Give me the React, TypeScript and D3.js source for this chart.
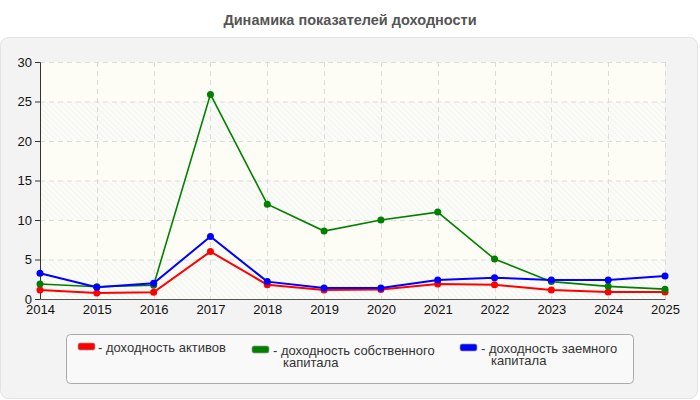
import React, { useEffect, useRef } from "react";
import * as d3 from "d3";

const years = [2014, 2015, 2016, 2017, 2018, 2019, 2020, 2021, 2022, 2023, 2024, 2025];
const assetsReturn = [1.15, 0.75, 0.85, 6.0, 1.8, 1.15, 1.2, 1.9, 1.8, 1.15, 0.9, 0.9];
const equityReturn = [1.9, 1.55, 1.75, 25.9, 12.0, 8.6, 10.0, 11.0, 5.05, 2.2, 1.6, 1.25];
const debtReturn = [3.25, 1.5, 2.0, 7.9, 2.2, 1.4, 1.4, 2.4, 2.7, 2.4, 2.4, 2.9];
const yTicks = [0, 5, 10, 15, 20, 25, 30];

const series = [
  { name: "доходность активов", lines: ["- доходность активов"], color: "#ff0000", values: assetsReturn, width: 2 },
  { name: "доходность собственного капитала", lines: ["- доходность собственного", "капитала"], color: "#008000", values: equityReturn, width: 1.6 },
  { name: "доходность заемного капитала", lines: ["- доходность заемного", "капитала"], color: "#0000ff", values: debtReturn, width: 2 },
];

const App: React.FC = () => {
  const svgRef = useRef<SVGSVGElement | null>(null);

  useEffect(() => {
    if (!svgRef.current) return;
    const svg = d3.select(svgRef.current);
    svg.selectAll("*").remove();

    const width = 700;
    const height = 400;
    const margin = { top: 62, right: 35, bottom: 101, left: 40 };
    const font = "'Liberation Sans', Arial, sans-serif";

    svg.attr("width", width).attr("height", height).style("font-family", font);

    // outer panel
    svg.append("rect")
      .attr("x", 0.5).attr("y", 37.5).attr("width", 697).attr("height", 361)
      .attr("rx", 8).attr("fill", "#f3f3f3").attr("stroke", "#e2e2e2");

    svg.append("text")
      .attr("x", 350).attr("y", 25).attr("text-anchor", "middle")
      .attr("font-size", 14.5).attr("font-weight", "bold").attr("fill", "#555")
      .text("Динамика показателей доходности");

    const x = d3.scaleLinear()
      .domain([years[0], years[years.length - 1]])
      .range([margin.left, width - margin.right]);
    const y = d3.scaleLinear().domain([0, 30]).range([height - margin.bottom, margin.top]);

    // hatched bands
    const defs = svg.append("defs");
    const pat = defs.append("pattern")
      .attr("id", "hatch").attr("patternUnits", "userSpaceOnUse")
      .attr("width", 4).attr("height", 4).attr("patternTransform", "rotate(-45)");
    pat.append("rect").attr("width", 4).attr("height", 4).attr("fill", "#fbfbf8");
    pat.append("line").attr("x1", 0).attr("y1", 0).attr("x2", 0).attr("y2", 4)
      .attr("stroke", "#eeeeeb").attr("stroke-width", 1.2);

    svg.append("rect")
      .attr("x", x(2014)).attr("y", y(30))
      .attr("width", x(2025) - x(2014)).attr("height", y(0) - y(30))
      .attr("fill", "#fdfdf6");

    svg.append("g").selectAll("rect")
      .data(yTicks.slice(0, -1).filter((_, i) => i % 2 === 0))
      .join("rect")
      .attr("x", x(2014)).attr("y", (d) => y(d + 5))
      .attr("width", x(2025) - x(2014)).attr("height", (d) => y(d) - y(d + 5))
      .attr("fill", "url(#hatch)");

    // grid
    const grid = svg.append("g").attr("stroke", "#dcdcdc").attr("stroke-dasharray", "5,4");
    grid.selectAll("line.h").data(yTicks.slice(1)).join("line").attr("class", "h")
      .attr("x1", x(2014)).attr("x2", x(2025))
      .attr("y1", (d) => y(d) + 0.5).attr("y2", (d) => y(d) + 0.5);
    grid.selectAll("line.v").data(years.slice(1)).join("line").attr("class", "v")
      .attr("x1", (d) => Math.round(x(d)) + 0.5).attr("x2", (d) => Math.round(x(d)) + 0.5)
      .attr("y1", y(30)).attr("y2", y(0));

    // axes
    const yAxis = svg.append("g")
      .attr("transform", `translate(${x(2014)},0)`)
      .call(d3.axisLeft(y).tickValues(yTicks).tickSize(5).tickPadding(3));
    const xAxis = svg.append("g")
      .attr("transform", `translate(0,${y(0)})`)
      .call(d3.axisBottom(x).tickValues(years).tickFormat(d3.format("d")).tickSize(0).tickPadding(6));
    [yAxis, xAxis].forEach((g) => {
      g.selectAll("text").attr("font-size", 13).attr("fill", "#111").style("font-family", font);
      g.selectAll("line").attr("stroke", "#333");
    });
    yAxis.select(".domain").attr("stroke", "#333");
    xAxis.select(".domain").attr("stroke", "#555");

    // series
    const line = d3.line<number>()
      .x((_, i) => x(years[i]))
      .y((d) => y(d));

    series.forEach((s) => {
      svg.append("path")
        .datum(s.values)
        .attr("fill", "none")
        .attr("stroke", s.color)
        .attr("stroke-width", s.width)
        .attr("d", line);
      svg.append("g").selectAll("circle")
        .data(s.values)
        .join("circle")
        .attr("cx", (_, i) => x(years[i]))
        .attr("cy", (d) => y(d))
        .attr("r", 3.5)
        .attr("fill", s.color);
    });

    // legend
    svg.append("rect")
      .attr("x", 66.5).attr("y", 334.5).attr("width", 567).attr("height", 49)
      .attr("rx", 4).attr("fill", "#f9f9f9").attr("stroke", "#aaa");

    const legendPos = [
      { sx: 78, sy: 343, tx: 98 },
      { sx: 252, sy: 346, tx: 273 },
      { sx: 460, sy: 344, tx: 481 },
    ];
    series.forEach((s, i) => {
      const p = legendPos[i];
      svg.append("rect")
        .attr("x", p.sx).attr("y", p.sy).attr("width", 17).attr("height", 7)
        .attr("rx", 2).attr("fill", s.color).attr("stroke", "#999").attr("stroke-width", 0.7);
      const t = svg.append("text")
        .attr("x", p.tx).attr("y", p.sy + 9)
        .attr("font-size", 13).attr("fill", "#333");
      s.lines.forEach((ln, j) => {
        t.append("tspan")
          .attr("x", j === 0 ? p.tx : p.tx + 10)
          .attr("dy", j === 0 ? 0 : 12)
          .text(ln);
      });
    });
  }, []);

  return (
    <svg ref={svgRef} style={{ position: "absolute", left: 0, top: 0 }}></svg>
  );
};

export default App;
